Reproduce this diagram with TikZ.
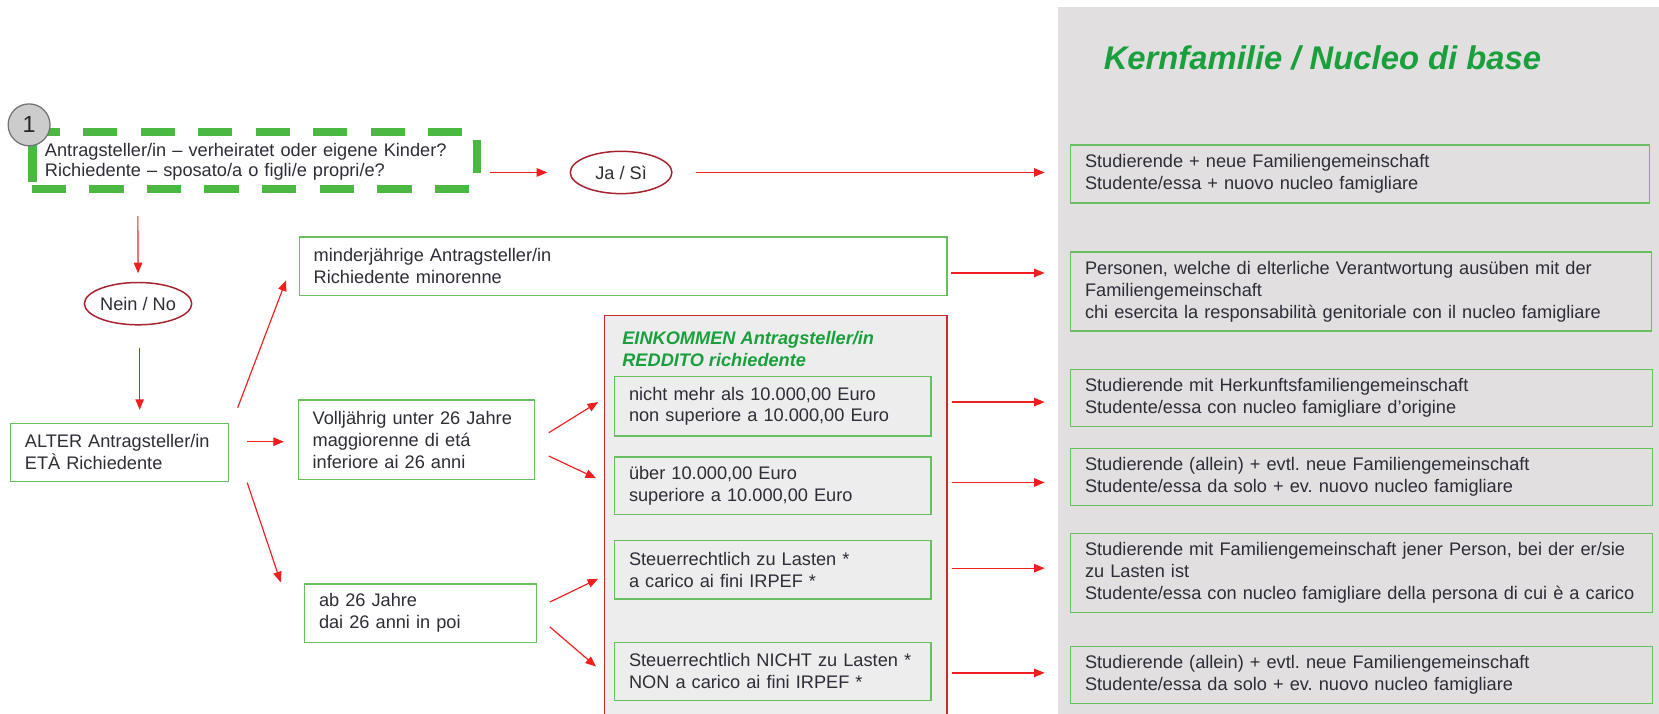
\documentclass[tikz,border=0pt]{standalone}
\usepackage{fontspec}
\setmainfont{Liberation Sans}
\frenchspacing
\usetikzlibrary{arrows.meta,calc,shapes.geometric}
\definecolor{textcol}{RGB}{45,45,55}
\definecolor{gboxcol}{RGB}{105,190,95}
\definecolor{dashgreen}{RGB}{75,185,65}
\definecolor{arrowred}{RGB}{240,30,30}
\definecolor{ellred}{RGB}{165,35,45}
\definecolor{contred}{RGB}{200,45,45}
\definecolor{contfill}{RGB}{237,237,237}
\definecolor{panelfill}{RGB}{225,223,224}
\definecolor{titlegreen}{RGB}{25,160,60}
\begin{document}
\begin{tikzpicture}[x=1pt,y=-1pt,
  txt/.style={font=\fontsize{17.2}{20.7}\selectfont, text=textcol},
  gbox/.style={txt, draw=gboxcol, line width=1.3pt, rectangle, inner xsep=13.5pt, inner ysep=0pt, align=left, anchor=center},
  wbox/.style={gbox, fill=white},
  arr/.style={draw=arrowred, line width=1.1pt, -{Triangle[length=10pt,width=8pt]}},
  ell/.style={txt, ellipse, draw=ellred, line width=1.4pt, fill=white, minimum width=96pt, minimum height=40pt, inner sep=0pt},
  dashln/.style={draw=dashgreen, line width=7.6pt}
]
\useasboundingbox (0,0) rectangle (1568,674);

% right panel
\fill[panelfill] (1000,7) rectangle (1568,680);
\node[anchor=base west, inner sep=0pt, text=titlegreen, font=\fontsize{31}{31}\selectfont\bfseries\itshape] (title) at (1043,66) {Kernfamilie / Nucleo di base};

% income container
\fill[contfill] (571,298) rectangle (895,680);
\draw[contred, line width=1.2pt] (571,680) -- (571,298) -- (895,298) -- (895,680);
\node[anchor=west, inner sep=0pt, align=left, text=titlegreen, font=\fontsize{17.2}{20.5}\selectfont\bfseries\itshape] (inctitle) at (588,330) {EINKOMMEN Antragsteller/in\\REDDITO richiedente};

% question box (dashed)
\draw[dashln, dash pattern=on 32.1pt off 22.2pt] (24.6,124.8) -- (437,124.8);
\draw[dashln, dash pattern=on 32.6pt off 21.8pt] (30,178.6) -- (444,178.6);
\draw[dashln] (30.7,133) -- (30.7,172);
\draw[dashln] (451,132.3) -- (451,163.5);
\node[txt, font=\fontsize{17.2}{19}\selectfont, align=left, inner xsep=12.5pt, inner ysep=0pt, text width=396pt, minimum height=54pt] (q1) at (240.5,152.5) {Antragsteller/in -- verheiratet oder eigene Kinder?\\Richiedente -- sposato/a o figli/e propri/e?};
\node[circle, draw=black!55, line width=1.2pt, fill=black!20, minimum size=39.6pt, inner sep=0pt, text=black!85, font=\fontsize{22}{22}\selectfont] (c1) at (27.5,118) {1};

% ellipses
\node[ell] (ja) at (587,163) {Ja / Sì};
\node[ell] (nein) at (130.5,287) {Nein / No};

% left boxes
\node[wbox, text width=179pt, minimum height=55pt] (alter) at (113,427.5) {ALTER Antragsteller/in\\ETÀ Richiedente};
\node[wbox, text width=196pt, minimum height=75pt] (vollj) at (393.5,415.5) {Volljährig unter 26 Jahre\\maggiorenne di etá\\inferiore ai 26 anni};
\node[wbox, text width=585pt, minimum height=55pt] (minderj) at (589,251.5) {minderjährige Antragsteller/in\\Richiedente minorenne};
\node[wbox, text width=192pt, minimum height=55pt] (ab26) at (397.5,579.5) {ab 26 Jahre\\dai 26 anni in poi};

% inner boxes
\node[gbox, text width=272pt, minimum height=56pt] (i1) at (730.5,384) {nicht mehr als 10.000,00 Euro\\non superiore a 10.000,00 Euro};
\node[gbox, text width=272pt, minimum height=54pt] (i2) at (730.5,459) {über 10.000,00 Euro\\superiore a 10.000,00 Euro};
\node[gbox, text width=272pt, minimum height=55pt] (i3) at (730.5,538.5) {Steuerrechtlich zu Lasten *\\a carico ai fini IRPEF *};
\node[gbox, text width=272pt, minimum height=55pt] (i4) at (730.5,634.5) {Steuerrechtlich NICHT zu Lasten *\\NON a carico ai fini IRPEF *};

% right boxes
\node[gbox, text width=520pt, minimum height=55pt] (r1) at (1285.5,164.5) {Studierende + neue Familiengemeinschaft\\Studente/essa + nuovo nucleo famigliare};
\node[gbox, text width=522pt, minimum height=75pt] (r2) at (1286.5,275.5) {Personen, welche di elterliche Verantwortung ausüben mit der\\Familiengemeinschaft\\chi esercita la responsabilità genitoriale con il nucleo famigliare};
\node[gbox, text width=523pt, minimum height=54pt] (r3) at (1287,376) {Studierende mit Herkunftsfamiliengemeinschaft\\Studente/essa con nucleo famigliare d'origine};
\node[gbox, text width=523pt, minimum height=54pt] (r4) at (1287,451) {Studierende (allein) + evtl. neue Familiengemeinschaft\\Studente/essa da solo + ev. nuovo nucleo famigliare};
\node[gbox, text width=523pt, minimum height=75pt] (r5) at (1287,541.5) {Studierende mit Familiengemeinschaft jener Person, bei der er/sie\\zu Lasten ist\\Studente/essa con nucleo famigliare della persona di cui è a carico};
\node[gbox, text width=523pt, minimum height=54pt] (r6) at (1287,638) {Studierende (allein) + evtl. neue Familiengemeinschaft\\Studente/essa da solo + ev. nuovo nucleo famigliare};

% connectors
\draw[arr] ($(q1.east)+(12,10.5)$) -- ($(ja.west)+(-21,0)$);
\draw[arr] ($(ja.east)+(22,0)$) -- ($(r1.west)+(-24,-1.5)$);
\draw[arr] ($(q1.south west)+(100.5,24.5)$) -- ($(nein.north)+(0,-8)$);
\draw[arr] ($(nein.south)+(1.5,21)$) -- ($(alter.north)+(19,-12)$);
\draw[arr] ($(alter.north east)+(8,-14)$) -- ($(minderj.west)+(-12,13.5)$);
\draw[arr] ($(alter.east)+(17,-10)$) -- ($(vollj.west)+(-13,2)$);
\draw[arr] ($(alter.south east)+(17,0.5)$) -- ($(ab26.north west)+(-22,-1)$);
\draw[arr] ($(minderj.east)+(3,6.5)$) -- ($(r2.west)+(-24,-17.5)$);
\draw[arr] ($(vollj.east)+(13,-6.5)$) -- ($(i1.west)+(-15,-4)$);
\draw[arr] ($(vollj.east)+(13,15.5)$) -- ($(i2.west)+(-17,-7)$);
\draw[arr] ($(ab26.east)+(12,-10.5)$) -- ($(i3.west)+(-15,8.5)$);
\draw[arr] ($(ab26.east)+(12,13)$) -- ($(i4.west)+(-17,-4.5)$);
\draw[arr] ($(i1.east)+(19,-4)$) -- ($(r3.west)+(-24,4)$);
\draw[arr] ($(i2.east)+(19,-3)$) -- ($(r4.west)+(-24,5)$);
\draw[arr] ($(i3.east)+(19,-1.5)$) -- ($(r5.west)+(-24,-4.5)$);
\draw[arr] ($(i4.east)+(19,1.5)$) -- ($(r6.west)+(-24,-2)$);
\end{tikzpicture}
\end{document}
